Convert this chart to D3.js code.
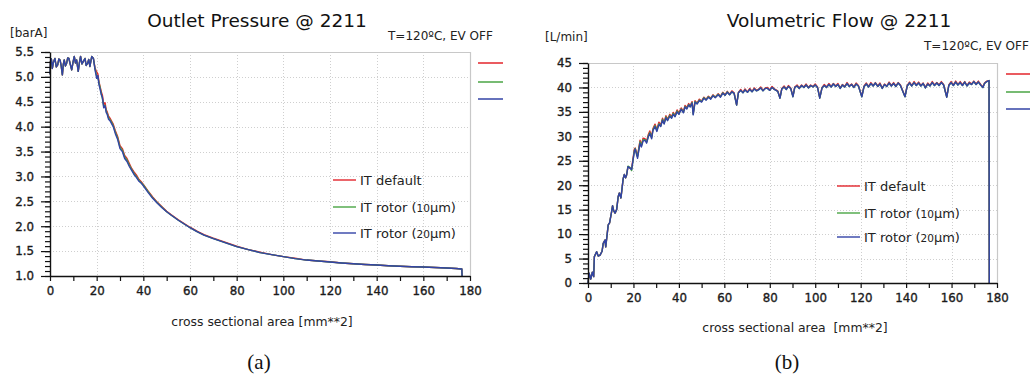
<!DOCTYPE html>
<html>
<head>
<meta charset="utf-8">
<script src="https://cdn.jsdelivr.net/npm/d3@7"></script>
<style>
  html, body { margin: 0; padding: 0; background: #fff; }
  svg { display: block; }
</style>
</head>
<body>
<script>
// ---- Outlet pressure vs. cross sectional area ----
const pArea = [
  0, 0.2, 0.6, 1.0, 1.5, 2.1, 2.7, 3.3, 3.8, 4.3,
  4.8, 5.3, 5.7, 6.1, 6.6, 7.1, 7.6, 8.1, 8.7, 9.3,
  9.9, 10.4, 10.9, 11.4, 12.1, 12.6, 13.1, 13.7, 14.3, 15.0,
  15.5, 16.1, 16.6, 17.1, 17.9, 18.6, 19.3, 20.0, 20.5, 21.0,
  21.4, 22.0, 22.5, 23.0, 23.6, 24.1, 24.5, 25.1, 25.7, 26.5,
  27.1, 28, 29, 30, 31, 32, 33, 34, 35, 36,
  37, 38, 39, 40, 42, 44, 46, 48, 50, 52,
  55, 58, 60, 63, 66, 70, 75, 80, 85, 90,
  95, 100, 105, 110, 115, 120, 125, 130, 135, 140,
  145, 150, 155, 160, 165, 170, 174, 176.5, 176.6
];
const pDefault = [
  5.05, 5.31, 5.36, 5.17, 5.30, 5.37, 5.20, 5.24, 5.36, 5.34,
  5.22, 5.04, 5.25, 5.34, 5.22, 5.27, 5.38, 5.37, 5.25, 5.14,
  5.30, 5.41, 5.28, 5.34, 5.11, 5.28, 5.41, 5.26, 5.31, 5.37,
  5.23, 5.27, 5.35, 5.21, 5.41, 5.37, 5.18, 5.10, 5.06, 4.90,
  4.82, 4.70, 4.62, 4.45, 4.48, 4.34, 4.30, 4.21, 4.17, 4.10,
  4.05, 3.92, 3.80, 3.62, 3.56, 3.42, 3.36, 3.26, 3.16, 3.09,
  3.03, 2.95, 2.90, 2.84, 2.71, 2.59, 2.48, 2.39, 2.30, 2.23,
  2.13, 2.04, 1.98, 1.90, 1.83, 1.76, 1.68, 1.60, 1.53, 1.48,
  1.43, 1.39, 1.36, 1.32, 1.30, 1.285, 1.26, 1.245, 1.23, 1.22,
  1.205, 1.195, 1.185, 1.18, 1.17, 1.16, 1.15, 1.14, 1.0
];
const pRotor10 = [
  5.05, 5.31, 5.36, 5.17, 5.30, 5.37, 5.20, 5.24, 5.36, 5.34,
  5.22, 5.04, 5.25, 5.34, 5.22, 5.27, 5.38, 5.37, 5.25, 5.14,
  5.30, 5.41, 5.28, 5.34, 5.11, 5.28, 5.41, 5.26, 5.31, 5.37,
  5.23, 5.27, 5.35, 5.21, 5.41, 5.37, 5.16, 5.02, 5.00, 4.88,
  4.80, 4.66, 4.55, 4.42, 4.43, 4.31, 4.27, 4.18, 4.14, 4.08,
  4.02, 3.89, 3.77, 3.59, 3.53, 3.39, 3.33, 3.23, 3.14, 3.06,
  3.00, 2.93, 2.88, 2.83, 2.70, 2.57, 2.47, 2.38, 2.29, 2.22,
  2.12, 2.03, 1.97, 1.89, 1.82, 1.75, 1.67, 1.59, 1.53, 1.47,
  1.43, 1.39, 1.35, 1.32, 1.30, 1.28, 1.26, 1.245, 1.23, 1.22,
  1.205, 1.195, 1.185, 1.18, 1.17, 1.16, 1.15, 1.14, 1.0
];
const pRotor20 = [
  5.05, 5.31, 5.36, 5.17, 5.30, 5.37, 5.20, 5.24, 5.36, 5.34,
  5.22, 5.04, 5.25, 5.34, 5.22, 5.27, 5.38, 5.37, 5.25, 5.14,
  5.30, 5.41, 5.28, 5.34, 5.11, 5.28, 5.41, 5.26, 5.31, 5.37,
  5.23, 5.27, 5.35, 5.21, 5.41, 5.37, 5.14, 4.97, 5.03, 4.84,
  4.77, 4.64, 4.58, 4.38, 4.42, 4.28, 4.25, 4.15, 4.12, 4.05,
  4.00, 3.86, 3.74, 3.56, 3.50, 3.36, 3.30, 3.20, 3.12, 3.04,
  2.98, 2.91, 2.87, 2.81, 2.68, 2.56, 2.46, 2.37, 2.29, 2.22,
  2.12, 2.03, 1.97, 1.89, 1.82, 1.75, 1.67, 1.59, 1.53, 1.47,
  1.43, 1.39, 1.35, 1.32, 1.30, 1.28, 1.26, 1.245, 1.23, 1.22,
  1.205, 1.195, 1.185, 1.18, 1.17, 1.16, 1.15, 1.14, 1.0
];

// ---- Volumetric flow vs. cross sectional area ----
const qArea = [
  0, 0.5, 1.2, 1.9, 2.5, 2.8, 3.8, 4.5, 5.3, 6.2,
  6.7, 7.5, 7.8, 8.9, 9.5, 10.4, 10.8, 11.3, 11.9, 12.6,
  13.3, 13.8, 14.5, 15.5, 16.0, 16.5, 17.0, 17.6, 18.5, 19.2,
  20.4, 20.8, 21.4, 21.8, 22.9, 23.5, 24.2, 25.1, 25.8, 26.5,
  27.2, 28.0, 28.6, 29.5, 30.3, 31.2, 32.0, 32.8, 33.5, 34.3,
  35.0, 36.0, 36.8, 37.5, 38.3, 39.2, 40.0, 41.0, 42.0, 42.7,
  43.5, 44.3, 45.0, 45.8, 46.3, 47.1, 48.0, 49.0, 50.0, 51.0,
  52, 53, 54, 55, 56, 57.3, 58.3, 59.3, 60.3, 61.3,
  62.3, 63.3, 64.3, 65.4, 66.2, 67.2, 68.2, 69.1, 70.2, 71.2,
  72.2, 73.2, 74.2, 75, 76, 77, 78, 79, 80, 81,
  82, 83.5, 84.5, 85.3, 86.3, 87.3, 88.2, 89.2, 90.2, 91,
  92, 93, 94, 95, 96, 97, 98, 99, 100, 101,
  102, 103, 104, 105, 106, 107, 108, 109, 110, 111,
  112, 113, 114, 115, 116, 117, 118, 119, 120.5, 121.5,
  122.5, 123.5, 124.5, 125.5, 126.5, 127.5, 128.5, 129.5, 130.5, 131.5,
  132.5, 133.5, 134.5, 135.5, 136.5, 137.5, 139.5, 140.5, 141.5, 142.5,
  143.5, 144.5, 145.5, 146.5, 147.5, 148.5, 149.5, 150.5, 151.5, 152.5,
  153.5, 154.5, 155.5, 156.5, 157.9, 158.8, 159.8, 160.8, 161.8, 162.8,
  163.8, 164.8, 165.8, 166.8, 167.8, 168.8, 169.8, 170.8, 171.8, 172.8,
  173.8, 174.5, 175.5, 176.5, 176.6
];
const qDefault = [
  0, 2.0, 0.8, 2.2, 1.3, 5.4, 6.4, 5.5, 5.7, 6.5,
  8.1, 8.8, 7.4, 11.9, 12.3, 14.6, 15.8, 14.8, 14.3, 15.0,
  17.7, 18.4, 17.4, 21.4, 22.2, 21.5, 22.1, 23.8, 23.5, 23.4,
  27.4, 27.6, 26.6, 26.0, 29.2, 28.2, 29.6, 29.5, 29.0, 30.3,
  31.1, 29.9, 31.6, 32.5, 31.4, 32.9, 32.3, 33.7, 32.8, 34.2,
  33.5, 34.5, 34.0, 34.9, 34.3, 35.4, 34.8, 35.8, 35.1, 36.3,
  35.9, 36.7, 36.3, 37.1, 34.7, 37.3, 36.8, 37.6, 37.2, 38.0,
  37.6, 38.2, 37.8, 38.5, 38.0, 38.7, 38.2, 39.0, 38.5, 39.2,
  38.6, 39.3, 38.9, 36.5, 39.0, 39.6, 39.0, 39.7, 39.1, 39.8,
  39.2, 39.9, 39.4, 39.6, 40.1, 39.4, 39.9, 40.0, 39.5, 40.2,
  39.7, 39.3, 37.9, 39.8, 40.3, 39.7, 40.4, 39.9, 38.2, 40.1,
  40.5, 39.9, 40.5, 40.1, 40.7, 40.0, 40.5, 40.2, 40.7, 40.1,
  37.9, 40.0, 40.6, 40.1, 40.8, 40.2, 40.8, 40.3, 40.8, 39.9,
  40.6, 40.2, 41.0, 40.3, 40.7, 40.1, 40.9, 40.4, 38.2, 40.3,
  40.9, 40.2, 41.0, 40.4, 41.0, 40.3, 40.9, 39.9, 40.7, 40.3,
  41.1, 40.4, 41.0, 40.3, 41.0, 40.5, 38.2, 40.4, 41.1, 40.4,
  41.2, 40.5, 41.1, 40.4, 40.9, 40.0, 40.9, 40.4, 41.2, 40.5,
  41.0, 40.5, 41.2, 40.6, 38.1, 40.5, 41.2, 40.5, 41.3, 40.6,
  41.2, 40.5, 41.2, 40.4, 41.1, 40.7, 41.3, 40.7, 41.3, 40.6,
  40.1, 40.9, 41.3, 41.4, 0
];
const qRotor10 = [
  0, 2.0, 0.8, 2.2, 1.3, 5.4, 6.4, 5.5, 5.7, 6.5,
  8.1, 8.8, 7.4, 11.9, 12.3, 14.6, 15.8, 14.8, 14.3, 15.0,
  17.7, 18.4, 17.4, 21.4, 22.2, 21.5, 22.1, 23.9, 23.6, 23.0,
  27.1, 27.5, 26.4, 25.8, 28.9, 28.0, 29.3, 29.3, 28.8, 30.0,
  30.8, 29.7, 31.4, 32.2, 31.2, 32.6, 32.1, 33.5, 32.6, 34.0,
  33.3, 34.3, 33.8, 34.7, 34.1, 35.2, 34.6, 35.6, 34.9, 36.1,
  35.7, 36.5, 36.1, 36.9, 34.5, 37.1, 36.7, 37.4, 37.1, 37.9,
  37.5, 38.1, 37.7, 38.4, 38.0, 38.6, 38.1, 38.9, 38.4, 39.1,
  38.5, 39.1, 38.8, 36.4, 38.9, 39.4, 38.9, 39.5, 39.0, 39.6,
  39.1, 39.7, 39.3, 39.5, 39.9, 39.3, 39.8, 39.8, 39.4, 40.0,
  39.6, 39.2, 37.8, 39.7, 40.1, 39.6, 40.2, 39.8, 38.1, 40.0,
  40.3, 39.8, 40.4, 40.0, 40.5, 39.9, 40.4, 40.1, 40.5, 40.0,
  37.8, 39.9, 40.4, 40.0, 40.6, 40.1, 40.7, 40.2, 40.6, 39.8,
  40.5, 40.1, 40.8, 40.2, 40.6, 40.0, 40.7, 40.3, 38.1, 40.2,
  40.7, 40.1, 40.8, 40.3, 40.9, 40.2, 40.7, 39.8, 40.6, 40.2,
  40.9, 40.3, 40.8, 40.2, 40.9, 40.4, 38.1, 40.3, 40.9, 40.3,
  41.0, 40.4, 40.9, 40.3, 40.8, 39.9, 40.7, 40.3, 41.0, 40.4,
  40.9, 40.4, 41.0, 40.5, 38.0, 40.4, 41.0, 40.4, 41.1, 40.5,
  41.0, 40.4, 41.1, 40.3, 40.9, 40.6, 41.2, 40.6, 41.1, 40.5,
  40.0, 40.8, 41.2, 41.4, 0
];
const qRotor20 = [
  0, 2.0, 0.8, 2.2, 1.3, 5.4, 6.4, 5.5, 5.7, 6.5,
  8.1, 8.8, 7.4, 11.9, 12.3, 14.6, 15.8, 14.8, 14.3, 15.0,
  17.7, 18.4, 17.4, 21.4, 22.2, 21.5, 22.1, 23.8, 23.5, 23.2,
  26.9, 27.4, 26.2, 25.5, 28.6, 27.8, 29.0, 29.2, 28.6, 29.8,
  30.6, 29.5, 31.2, 32.0, 31.0, 32.4, 32.0, 33.3, 32.5, 33.8,
  33.2, 34.1, 33.7, 34.5, 34.0, 35.0, 34.5, 35.5, 34.8, 36.0,
  35.6, 36.4, 36.0, 36.8, 34.4, 37.0, 36.6, 37.3, 37.0, 37.8,
  37.4, 38.0, 37.6, 38.3, 37.9, 38.5, 38.0, 38.8, 38.4, 39.0,
  38.5, 39.1, 38.8, 36.4, 38.9, 39.4, 38.9, 39.5, 39.0, 39.6,
  39.1, 39.7, 39.3, 39.5, 39.9, 39.3, 39.8, 39.8, 39.4, 40.0,
  39.6, 39.2, 37.8, 39.7, 40.1, 39.6, 40.2, 39.8, 38.1, 40.0,
  40.3, 39.8, 40.4, 40.0, 40.5, 39.9, 40.4, 40.1, 40.5, 40.0,
  37.8, 39.9, 40.4, 40.0, 40.6, 40.1, 40.7, 40.2, 40.6, 39.8,
  40.5, 40.1, 40.8, 40.2, 40.6, 40.0, 40.7, 40.3, 38.1, 40.2,
  40.7, 40.1, 40.8, 40.3, 40.9, 40.2, 40.7, 39.8, 40.6, 40.2,
  40.9, 40.3, 40.8, 40.2, 40.9, 40.4, 38.1, 40.3, 40.9, 40.3,
  41.0, 40.4, 40.9, 40.3, 40.8, 39.9, 40.7, 40.3, 41.0, 40.4,
  40.9, 40.4, 41.0, 40.5, 38.0, 40.4, 41.0, 40.4, 41.1, 40.5,
  41.0, 40.4, 41.1, 40.3, 40.9, 40.6, 41.2, 40.6, 41.1, 40.5,
  40.0, 40.8, 41.2, 41.4, 0
];

// Axis ticks
const areaTicks = [0, 20, 40, 60, 80, 100, 120, 140, 160, 180];
const pressureTicks = [1.0, 1.5, 2.0, 2.5, 3.0, 3.5, 4.0, 4.5, 5.0, 5.5];
const flowTicks = [0, 5, 10, 15, 20, 25, 30, 35, 40, 45];

const seriesNames = ["IT default", "IT rotor (10µm)", "IT rotor (20µm)"];
const seriesColors = ["#e3242b", "#4aa544", "#3343a6"];

const SANS = "'DejaVu Sans', Verdana, sans-serif";
const SERIF = "'Liberation Serif', 'DejaVu Serif', serif";

const svg = d3.select("body").append("svg")
  .attr("width", 1030).attr("height", 374)
  .style("font-family", SANS);

function drawPanel(cfg) {
  const g = svg.append("g");
  const x = d3.scaleLinear().domain([0, 180]).range([cfg.left, cfg.right]);
  const y = d3.scaleLinear().domain([cfg.ticks[0], cfg.ticks[cfg.ticks.length - 1]])
    .range([cfg.bottom, cfg.top]);

  // dotted grid
  const grid = g.append("g").attr("stroke", "#cfcfcf").attr("stroke-width", 1)
    .attr("stroke-dasharray", "1,2");
  grid.selectAll("line.v").data(areaTicks.slice(1, -1)).join("line")
    .attr("x1", d => Math.round(x(d)) + 0.5).attr("x2", d => Math.round(x(d)) + 0.5)
    .attr("y1", cfg.top).attr("y2", cfg.bottom);
  grid.selectAll("line.h").data(cfg.ticks.slice(1, -1)).join("line")
    .attr("x1", cfg.left).attr("x2", cfg.right)
    .attr("y1", d => Math.round(y(d)) + 0.5).attr("y2", d => Math.round(y(d)) + 0.5);

  // frame top and right
  g.append("path")
    .attr("d", `M${cfg.left},${cfg.top + 0.5}H${cfg.right + 0.5}V${cfg.bottom}`)
    .attr("fill", "none").attr("stroke", "#c8c8c8").attr("stroke-width", 1.2);

  // series
  const line = d3.line().x((d, i) => x(cfg.area[i])).y(d => y(d));
  cfg.series.forEach((vals, k) => {
    g.append("path").datum(vals)
      .attr("d", line)
      .attr("fill", "none")
      .attr("stroke", seriesColors[k])
      .attr("stroke-width", 1.4)
      .attr("stroke-linejoin", "round");
  });

  // x axis: ticks every 10, labels every 20
  const xMinor = d3.range(0, 181, 10);
  const xa = g.append("g").attr("transform", `translate(0,${cfg.bottom})`)
    .call(d3.axisBottom(x).tickValues(xMinor).tickSize(5).tickSizeOuter(0)
      .tickPadding(cfg.xPad).tickFormat(d => d % 20 === 0 ? d : ""));
  // y axis: minor then major
  const yStep = (cfg.ticks[1] - cfg.ticks[0]) / 5;
  const yMinor = d3.range(0, (cfg.ticks.length - 1) * 5 + 1).map(i => +(cfg.ticks[0] + i * yStep).toFixed(3));
  const yaMinor = g.append("g").attr("transform", `translate(${cfg.left},0)`)
    .call(d3.axisLeft(y).tickValues(yMinor).tickSize(5).tickSizeOuter(0).tickFormat(""));
  yaMinor.select(".domain").remove();
  const ya = g.append("g").attr("transform", `translate(${cfg.left},0)`)
    .call(d3.axisLeft(y).tickValues(cfg.ticks).tickSize(9).tickSizeOuter(0)
      .tickPadding(7).tickFormat(cfg.fmt));

  [xa, ya, yaMinor].forEach(a => {
    a.attr("font-family", SANS).attr("font-size", 11.8);
    a.selectAll("line").attr("stroke", "#111").attr("stroke-width", 1.2);
    a.select(".domain").attr("stroke", "#111").attr("stroke-width", 1.4);
    a.selectAll("text").attr("fill", "#1a1a1a")
      .attr("stroke", "#1a1a1a").attr("stroke-width", 0.35);
  });

  // titles and labels
  g.append("text").attr("x", cfg.titleX).attr("y", 27)
    .attr("text-anchor", "middle").attr("font-size", 18.5).attr("fill", "#111")
    .text(cfg.title);
  g.append("text").attr("x", cfg.unitX).attr("y", cfg.unitY)
    .attr("font-size", 12).attr("fill", "#222").text(cfg.unit);
  g.append("text").attr("x", cfg.condX).attr("y", cfg.condY)
    .attr("font-size", 12).attr("fill", "#222").text("T=120ºC, EV OFF");
  g.append("text").attr("x", cfg.xLabelX).attr("y", cfg.xLabelY)
    .attr("text-anchor", "middle").attr("font-size", 12.4).attr("fill", "#222")
    .attr("xml:space", "preserve").text(cfg.xLabel);
  g.append("text").attr("x", cfg.tagX).attr("y", 369)
    .attr("text-anchor", "middle").attr("font-family", SERIF).attr("font-size", 21)
    .attr("fill", "#111").text(cfg.tag);

  // short colour keys beside the plot
  seriesColors.forEach((c, k) => {
    g.append("line").attr("x1", cfg.keyX).attr("x2", cfg.keyX + 25)
      .attr("y1", cfg.keyY[k]).attr("y2", cfg.keyY[k])
      .attr("stroke", c).attr("stroke-width", 1.5);
  });

  // inner legend
  seriesNames.forEach((name, k) => {
    const yy = cfg.legY[k];
    g.append("line").attr("x1", cfg.legX).attr("x2", cfg.legX + 23)
      .attr("y1", yy).attr("y2", yy).attr("stroke", seriesColors[k]).attr("stroke-width", 1.4);
    const t = g.append("text").attr("x", cfg.legX + 27).attr("y", yy + 4.5)
      .attr("font-size", 13).attr("fill", "#222");
    const m = name.match(/^(.*\()(\d+)(µm\))$/);
    if (m) {
      t.append("tspan").text(m[1]);
      t.append("tspan").attr("font-size", 10.5).text(m[2]);
      t.append("tspan").text(m[3]);
    } else {
      t.text(name);
    }
  });
}

drawPanel({
  left: 50, right: 470, top: 52, bottom: 276,
  area: pArea, series: [pDefault, pRotor10, pRotor20],
  ticks: pressureTicks, fmt: d3.format(".1f"), xPad: 6,
  title: "Outlet Pressure @ 2211", titleX: 257,
  unit: "[barA]", unitX: 10, unitY: 37,
  condX: 388, condY: 40,
  xLabel: "cross sectional area [mm**2]", xLabelX: 262, xLabelY: 326,
  tag: "(a)", tagX: 259,
  keyX: 478, keyY: [63, 82, 99],
  legX: 333, legY: [180, 207, 233]
});

drawPanel({
  left: 588, right: 997, top: 63, bottom: 283,
  area: qArea, series: [qDefault, qRotor10, qRotor20],
  ticks: flowTicks, fmt: d3.format("d"), xPad: 6,
  title: "Volumetric Flow @ 2211", titleX: 839,
  unit: "[L/min]", unitX: 545, unitY: 41,
  condX: 924, condY: 50,
  xLabel: "cross sectional area  [mm**2]", xLabelX: 795, xLabelY: 332,
  tag: "(b)", tagX: 787,
  keyX: 1006, keyY: [74, 92, 109],
  legX: 837, legY: [186, 213, 237]
});
</script>
</body>
</html>
